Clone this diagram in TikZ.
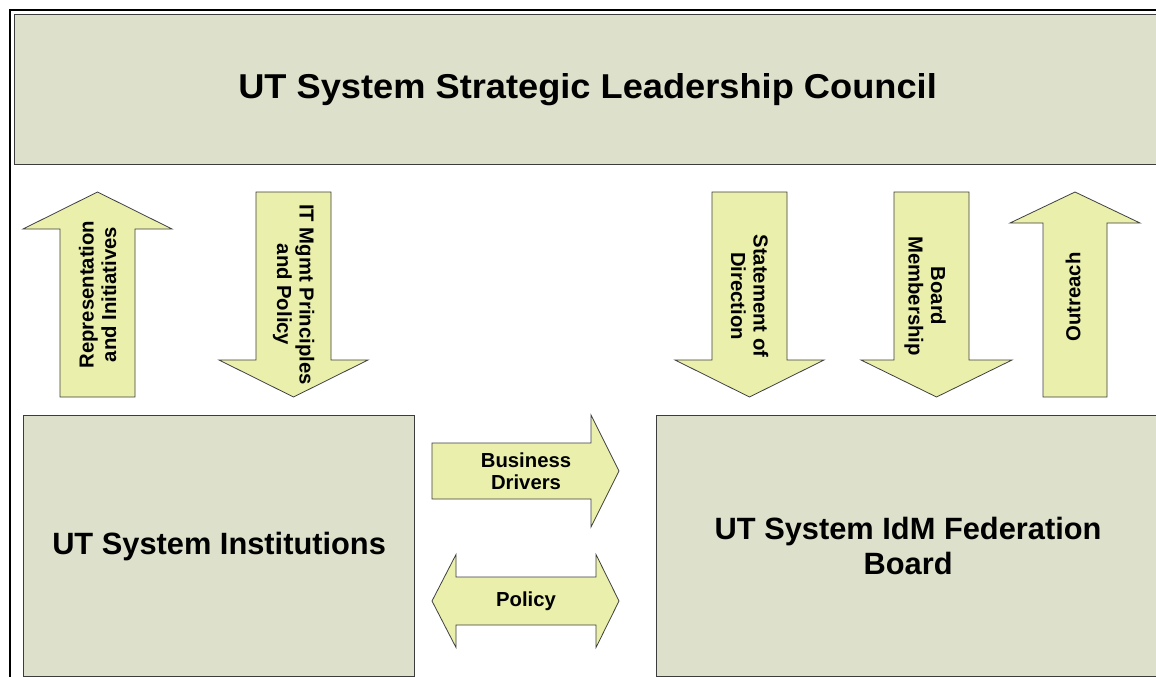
\documentclass[tikz,border=0pt]{standalone}
\usepackage{fontspec}
\setmainfont{Liberation Sans}
\definecolor{boxfill}{RGB}{221,224,202}
\definecolor{boxline}{RGB}{60,60,60}
\definecolor{arrowfill}{RGB}{234,239,172}
\definecolor{arrowline}{RGB}{64,64,64}
\begin{document}
\begin{tikzpicture}[x=1pt,y=-1pt,
  box/.style={draw=boxline, line width=1.2pt, fill=boxfill, anchor=north west,
              inner sep=0pt, align=center},
  blockarrow/.style={draw=arrowline, line width=0.8pt, fill=arrowfill, line join=miter},
  titletext/.style={font=\bfseries\fontsize{34.5}{40}\selectfont},
  bigtext/.style={font=\bfseries\fontsize{30.8}{35}\selectfont},
  arrowlabel/.style={font=\bfseries\fontsize{20.3}{22.5}\selectfont, align=center, inner sep=0pt},
]
\useasboundingbox (0,0) rectangle (1156,677);
\clip (0,0) rectangle (1156,677);
\fill[white] (0,0) rectangle (1156,677);

% outer frame
\draw[line width=2pt, black] (10,10) rectangle (1200,720);

% main boxes
\node[box, titletext, minimum width=1146pt, minimum height=150pt] (slc) at (14,14)
  {\scalebox{1.05}[1]{UT System Strategic Leadership Council}};
\node[box, bigtext, minimum width=391pt, minimum height=261pt] (inst) at (23,415)
  {UT System Institutions};
\node[box, bigtext, minimum width=503pt, minimum height=261pt] (idm) at (656,415)
  {UT System IdM Federation\\Board};

% vertical block arrows between the council and the lower boxes
\draw[blockarrow] (97.5,192) -- (172,229) -- (135,229) -- (135,397) -- (60,397)
  -- (60,229) -- (23,229) -- cycle;
\node[arrowlabel, rotate=90] (rep) at (97.5,294.5) {Representation\\and Initiatives};

\draw[blockarrow] (256,192) -- (331,192) -- (331,360) -- (368,360) -- (293.5,397)
  -- (219,360) -- (256,360) -- cycle;
\node[arrowlabel, rotate=-90] (itm) at (293.5,294.5) {IT Mgmt Principles\\and Policy};

\draw[blockarrow] (712,192) -- (787,192) -- (787,360) -- (824,360) -- (749.5,397)
  -- (675,360) -- (712,360) -- cycle;
\node[arrowlabel, rotate=-90] (sod) at (749.5,296) {Statement of\\Direction};

\draw[blockarrow] (894,192) -- (969,192) -- (969,360) -- (1012,360) -- (936.5,397)
  -- (861,360) -- (894,360) -- cycle;
\node[arrowlabel, rotate=-90] (bm) at (925,296) {Board\\Membership};

\draw[blockarrow] (1075,192) -- (1140,223) -- (1107,223) -- (1107,397) -- (1043,397)
  -- (1043,223) -- (1010,223) -- cycle;
\node[arrowlabel, rotate=90] (out) at (1073,297) {Outreach};

% horizontal block arrows between the institutions and the board
\draw[blockarrow] (432,443) -- (591,443) -- (591,415) -- (619,471) -- (591,527)
  -- (591,499) -- (432,499) -- cycle;
\node[arrowlabel] (bd) at (526,471) {Business\\Drivers};

\draw[blockarrow] (432,601) -- (456,554.5) -- (456,577) -- (596,577) -- (596,554.5)
  -- (619,601) -- (596,647.5) -- (596,625) -- (456,625) -- (456,647.5) -- cycle;
\node[arrowlabel] (pol) at (526,601) {Policy};
\end{tikzpicture}
\end{document}
